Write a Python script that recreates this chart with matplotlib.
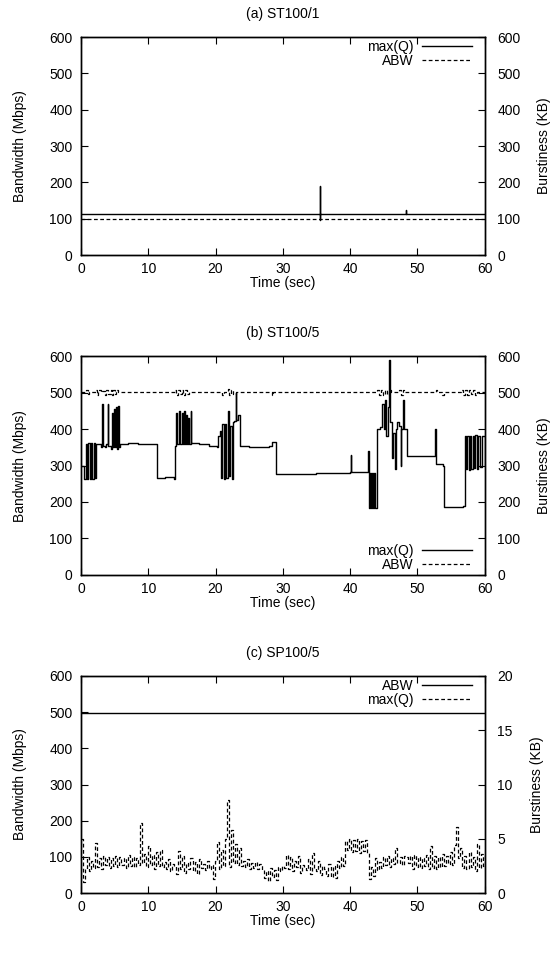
import numpy as np
import matplotlib
matplotlib.use('Agg')
from matplotlib import pyplot as plt

plt.rcParams['font.family'] = ['Liberation Sans', 'DejaVu Sans']
plt.rcParams['font.size'] = 10

# (a) ST100/1
a_q_t = [0, 35.4, 35.45, 35.5, 35.55, 48.2, 48.25, 48.3, 60]
a_q = [112, 112, 190, 97, 112, 112, 125, 112, 112]
a_abw_t = [0, 60]
a_abw = [100, 100]

# (b) ST100/5
b_q_t = [0.0, 0.5, 0.7, 0.9, 1.1, 1.3, 1.5, 1.7, 1.9, 2.1, 2.3, 2.6, 3.0, 3.2, 3.3, 3.6, 3.8, 4.0, 4.1,
         4.5, 4.6, 4.7, 4.9, 5.0, 5.2, 5.3, 5.5, 5.6, 5.8, 7.0, 8.5, 10.0, 11.3, 12.5, 13.8, 14.0,
         14.2, 14.3, 14.6, 14.7, 15.0, 15.1, 15.3, 15.4, 15.6, 15.7, 15.9, 16.0, 16.3, 16.4, 17.5,
         19.0, 20.2, 20.4, 20.6, 20.8, 21.0, 21.2, 21.4, 21.6, 21.8, 22.0, 22.2, 22.4, 22.6, 22.8,
         23.0, 23.1, 23.4, 23.6, 25.0, 26.5, 28.0, 28.4, 29.0, 35.0, 40.0, 40.1, 40.2, 42.7, 42.8,
         43.0, 43.1, 43.3, 43.4, 43.6, 43.7, 44.0, 44.5, 44.8, 45.0, 45.2, 45.4, 45.6, 45.8, 45.9,
         46.2, 46.4, 46.6, 46.8, 47.0, 47.2, 47.5, 47.6, 47.8, 48.0, 48.4, 52.5, 52.6, 52.8, 53.8,
         54.0, 56.8, 57.0, 57.2, 57.4, 57.6, 57.8, 58.0, 58.2, 58.4, 58.6, 58.8, 59.0, 59.3, 59.6, 60.0]
b_q = [300, 262, 360, 262, 362, 262, 362, 262, 362, 265, 360, 358, 352, 470, 355, 350, 360, 470, 355,
       345, 445, 350, 455, 350, 460, 345, 465, 350, 360, 362, 360, 358, 265, 268, 262, 355,
       445, 358, 450, 360, 445, 358, 450, 360, 440, 358, 430, 360, 450, 362, 358,
       355, 350, 380, 395, 265, 415, 262, 415, 265, 450, 270, 410, 262, 420, 422,
       500, 425, 440, 355, 350, 352, 355, 365, 278, 280, 282, 330, 283, 340, 182,
       280, 182, 280, 182, 280, 182, 400, 405, 470, 400, 480, 380, 460, 590, 420,
       320, 390, 290, 400, 420, 410, 300, 400, 480, 400, 325, 325, 400, 305, 300,
       185, 190, 380, 290, 380, 288, 382, 290, 380, 292, 383, 290, 380, 295, 382, 300]
b_abw_t = [0, 0.8, 1.0, 1.2, 2.2, 2.4, 2.6, 3.0, 3.2, 3.6, 3.8, 4.0, 4.4, 4.6, 4.8, 5.0, 5.2,
           5.5, 14.0, 14.2, 14.5, 14.7, 15.0, 15.2, 15.5, 15.8, 16.0, 21.0, 21.2, 21.8, 22.0,
           22.3, 22.6, 23.0, 28.4, 28.6, 44.0, 44.3, 44.6, 44.9, 45.2, 45.5, 45.8, 46.1,
           47.3, 47.5, 47.8, 48.0, 52.7, 52.9, 53.7, 53.9, 56.4, 56.7, 57.0, 57.3, 57.6,
           57.9, 58.2, 58.5, 58.8, 60]
b_abw = [501, 508, 496, 501, 509, 495, 507, 501, 506, 494, 508, 497, 507, 494, 509, 496, 508,
         501, 508, 494, 509, 496, 507, 493, 508, 497, 501, 495, 501, 510, 494,
         508, 496, 501, 493, 501, 507, 494, 509, 495, 508, 493, 507, 501,
         508, 494, 507, 501, 508, 501, 494, 501, 508, 495, 509, 494, 507,
         496, 508, 494, 501, 501]

# (c) SP100/5
c_abw_t = [0, 60]
c_abw = [499, 499]
c_q_kb = [5.0, 1.0, 2.2, 3.3, 2.0, 3.0, 2.3, 4.6, 2.4, 3.2,
          2.2, 3.4, 2.6, 3.3, 2.3, 3.2, 2.5, 3.4, 2.4, 3.3,
          2.6, 3.2, 2.3, 3.5, 2.5, 3.3, 2.4, 3.2, 2.6, 6.5,
          2.8, 3.6, 2.4, 4.3, 2.6, 3.5, 2.2, 3.8, 2.5, 4.0,
          2.4, 2.9, 2.2, 3.1, 2.0, 2.7, 2.5, 1.8, 3.9, 2.2,
          3.4, 1.9, 2.8, 2.2, 3.2, 2.0, 2.9, 1.8, 3.1, 2.3,
          2.7, 2.1, 3.0, 2.2, 2.6, 1.3, 3.0, 4.7, 2.2, 4.0,
          2.5, 5.0, 8.6, 2.4, 5.8, 2.8, 4.5, 2.6, 4.2, 2.5,
          3.0, 2.4, 3.1, 2.2, 2.8, 2.3, 2.9, 2.2, 2.7, 2.1,
          1.4, 2.0, 1.1, 2.3, 1.5, 2.1, 1.2, 2.4, 2.0, 2.5,
          2.3, 3.5, 2.2, 3.3, 2.0, 3.0, 2.4, 3.4, 1.9, 2.6,
          2.4, 2.1, 3.1, 1.8, 3.7, 2.3, 2.0, 3.0, 1.7, 2.5,
          2.2, 1.6, 2.7, 1.5, 2.5, 1.4, 3.0, 2.3, 3.3, 2.5,
          4.8, 4.0, 5.0, 3.8, 4.9, 3.9, 5.0, 3.7, 4.8, 3.9,
          4.9, 3.7, 1.3, 2.4, 1.6, 3.2, 2.1, 2.9, 2.3, 3.3,
          2.6, 3.4, 2.4, 3.2, 2.7, 4.2, 2.8, 3.3, 2.6, 3.4,
          3.3, 2.8, 3.4, 2.2, 3.5, 2.4, 3.3, 2.3, 3.2, 2.5,
          3.5, 2.2, 4.3, 2.3, 3.4, 2.2, 3.3, 2.4, 3.6, 2.5,
          3.4, 2.7, 3.8, 2.6, 4.4, 6.1, 3.2, 4.2, 2.3, 3.4,
          2.2, 3.8, 2.4, 3.3, 2.0, 4.5, 2.3, 3.6, 2.5, 3.5]
c_q_t = np.linspace(0, 60, len(c_q_kb))

DASH = (0, (3, 2))
fig = plt.figure(figsize=(5.54, 9.74), dpi=100)


def setup(ax, title, rmax, rticks):
    ax.set_xlim(0, 60)
    ax.set_ylim(0, 600)
    ax.set_xticks(range(0, 61, 10))
    ax.set_yticks(range(0, 601, 100))
    ax.set_title(title, fontsize=10, pad=14)
    ax.set_xlabel('Time (sec)', labelpad=0)
    ax.set_ylabel('Bandwidth (Mbps)', labelpad=16)
    ax.tick_params(direction='in', length=5, top=True, right=False)
    ax.tick_params(axis='y', pad=6)
    ax.tick_params(axis='x', pad=5)
    ax2 = ax.twinx()
    ax2.set_ylim(0, rmax)
    ax2.set_yticks(rticks)
    ax2.set_ylabel('Burstiness (KB)', labelpad=12)
    ax2.tick_params(direction='in', length=5, pad=9)
    for a in (ax, ax2):
        for s in a.spines.values():
            s.set_linewidth(1.0)
    return ax2


def leg(ax, handles, loc, anchor):
    ax.legend(handles=handles, loc=loc, bbox_to_anchor=anchor, frameon=False, markerfirst=False,
              handlelength=3.6, handletextpad=0.6, labelspacing=0.0, borderaxespad=0.1,
              borderpad=0.1, fontsize=10)


# panel a
ax = fig.add_axes([0.146, 0.738, 0.729, 0.224])
setup(ax, '(a) ST100/1', 600, range(0, 601, 100))
l1, = ax.plot(a_q_t, a_q, color='black', lw=1, drawstyle='steps-post', label='max(Q)')
l2, = ax.plot(a_abw_t, a_abw, color='black', lw=0.9, ls=DASH, label='ABW')
leg(ax, [l1, l2], 'upper right', (0.975, 1.0))

# panel b
ax = fig.add_axes([0.146, 0.410, 0.729, 0.224])
setup(ax, '(b) ST100/5', 600, range(0, 601, 100))
l1, = ax.plot(b_q_t, b_q, color='black', lw=1, drawstyle='steps-post', label='max(Q)')
l2, = ax.plot(b_abw_t, b_abw, color='black', lw=0.9, ls=DASH, drawstyle='steps-post', label='ABW')
leg(ax, [l1, l2], 'lower right', (0.975, 0.0))

# panel c
ax = fig.add_axes([0.146, 0.083, 0.729, 0.223])
ax2 = setup(ax, '(c) SP100/5', 20, range(0, 21, 5))
l1, = ax.plot(c_abw_t, c_abw, color='black', lw=1, label='ABW')
l2, = ax2.plot(c_q_t, c_q_kb, color='black', lw=0.9, ls=DASH, drawstyle='steps-post', label='max(Q)')
leg(ax, [l1, l2], 'upper right', (0.975, 1.0))

plt.savefig('out.png', dpi=100)
